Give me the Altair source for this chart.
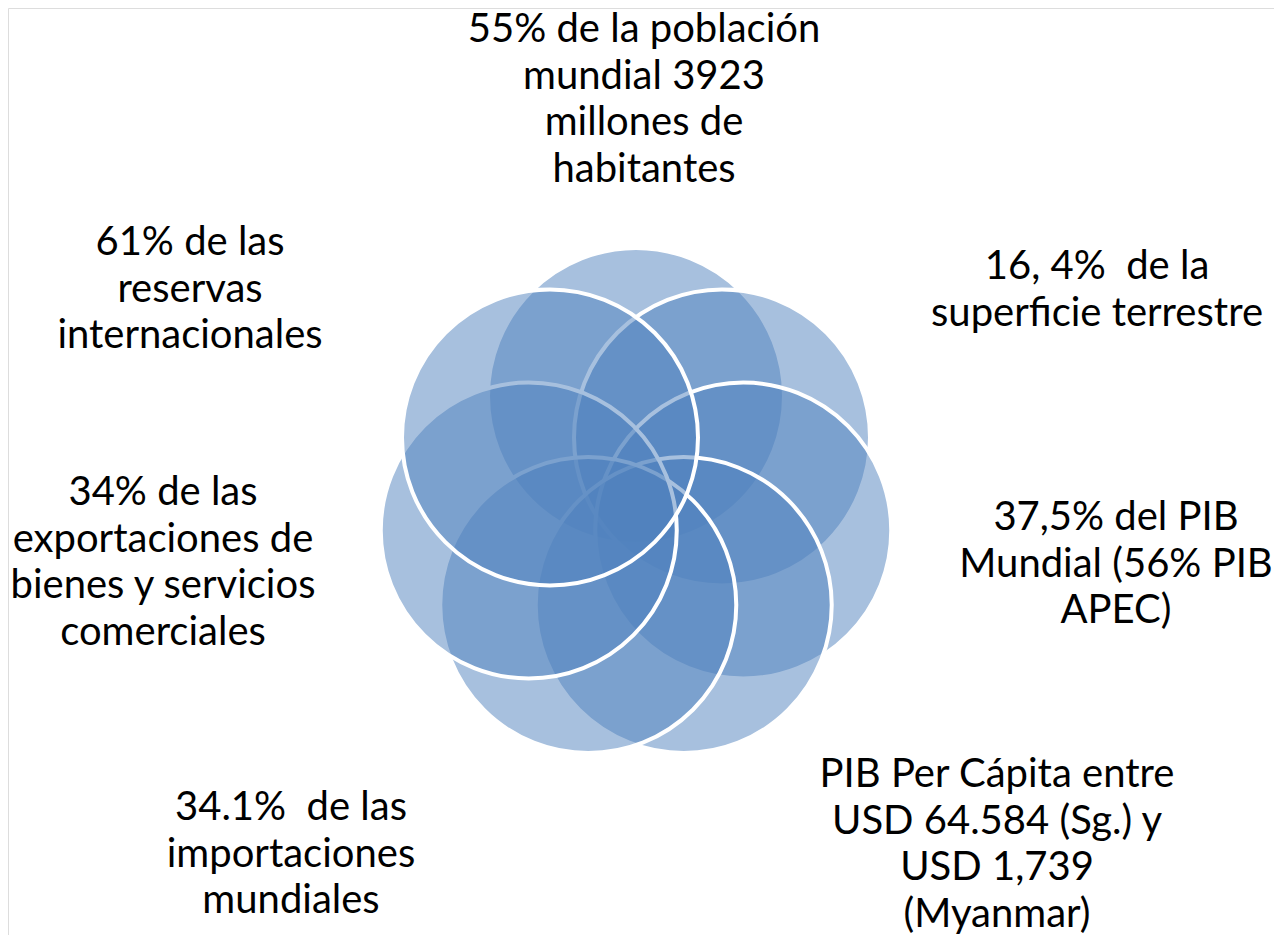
import altair as alt
import pandas as pd
import numpy as np

# --- content ---
labels = [
    "55% de la población\nmundial 3923\nmillones de\nhabitantes",
    "16, 4%\u00a0 de la\nsuperficie terrestre",
    "37,5% del PIB\nMundial (56% PIB\nAPEC)",
    "PIB Per Cápita entre\nUSD 64.584 (Sg.) y\nUSD 1,739\n(Myanmar)",
    "34.1%\u00a0 de las\nimportaciones\nmundiales",
    "34% de las\nexportaciones de\nbienes y servicios\ncomerciales",
    "61% de las\nreservas\ninternacionales",
]
order = list(range(len(labels)))

# --- layout (page pixel space) ---
W, H = 1266, 927
CX, CY, RING, R = 636, 506, 110, 148
label_x = [644, 1097, 1116, 997, 291, 163, 190]
label_y = [42, 279, 530, 787, 820, 505, 255]

n = len(labels)
ang = np.deg2rad(-90 + np.array(order) * 360.0 / n)
circles = pd.DataFrame({
    "order": order,
    "x": CX + RING * np.cos(ang),
    "y": CY + RING * np.sin(ang),
})
texts = pd.DataFrame({"label": labels, "x": label_x, "y": label_y})

xs = alt.Scale(domain=[8, 8 + W], nice=False, zero=False)
ys = alt.Scale(domain=[8, 8 + H], nice=False, zero=False, reverse=True)

circ = alt.Chart(circles).mark_circle(
    size=float((2 * R) ** 2),
    fill="#4F81BD",
    fillOpacity=0.5,
    stroke="white",
    strokeWidth=4,
    strokeOpacity=1,
    opacity=1,
).encode(
    x=alt.X("x:Q", scale=xs, axis=None),
    y=alt.Y("y:Q", scale=ys, axis=None),
    order=alt.Order("order:Q"),
)

txt = alt.Chart(texts).mark_text(
    font="Lato",
    fontSize=40,
    lineBreak="\n",
    lineHeight=46.5,
    align="center",
    baseline="alphabetic",
    color="black",
).encode(
    x=alt.X("x:Q", scale=xs, axis=None),
    y=alt.Y("y:Q", scale=ys, axis=None),
    text="label:N",
)

chart = alt.layer(circ, txt).properties(
    width=W, height=H, autosize=alt.AutoSizeParams(type="none"), padding=0
).configure_view(strokeWidth=0, strokeOpacity=0).configure(background="white")

chart.save("out.html", embed_options={"renderer": "svg", "actions": False})
